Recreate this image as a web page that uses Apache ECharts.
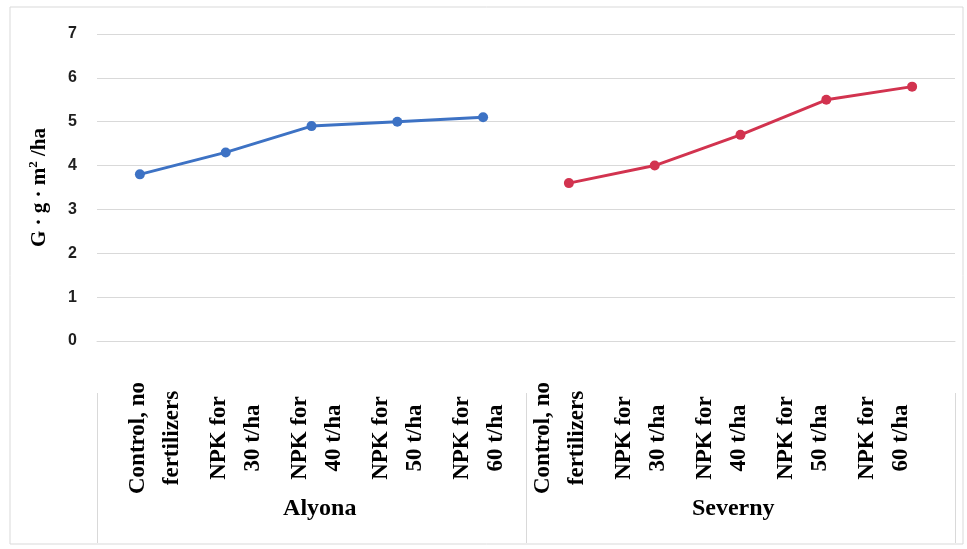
<!DOCTYPE html>
<html>
<head>
<meta charset="utf-8">
<script src="https://cdn.jsdelivr.net/npm/echarts@6/dist/echarts.min.js"></script>
<style>
  html, body { margin: 0; padding: 0; background: #ffffff; }
  #chart { width: 967px; height: 549px; }
</style>
</head>
<body>
<div id="chart"></div>
<script>
// Treatments, repeated for each variety
const treatments = [
  'Control, no\nfertilizers',
  'NPK for\n30 t/ha',
  'NPK for\n40 t/ha',
  'NPK for\n50 t/ha',
  'NPK for\n60 t/ha'
];
const varieties = ['Alyona', 'Severny'];

// Values per variety (G · g · m²/ha)
const alyona = [3.8, 4.3, 4.9, 5.0, 5.1];
const severny = [3.6, 4.0, 4.7, 5.5, 5.8];

// Y axis ticks
const yTicks = [0, 1, 2, 3, 4, 5, 6, 7];

const categories = varieties.flatMap(() => treatments);
const pad = treatments.map(() => null);
const alyonaSeries = alyona.concat(pad);
const severnySeries = pad.concat(severny);

const serif = '"Liberation Serif", "Times New Roman", serif';
const sans = '"Liberation Sans", Arial, sans-serif';
const gridColor = '#d9d9d9';

const chart = echarts.init(document.getElementById('chart'), null, { renderer: 'canvas' });

chart.setOption({
  backgroundColor: '#ffffff',
  animation: false,
  graphic: [{
    type: 'rect',
    shape: { x: 10, y: 7, width: 953, height: 537 },
    style: { fill: 'none', stroke: gridColor, lineWidth: 1 },
    silent: true,
    z: -1
  }],
  grid: [
    // plot area
    { left: 97, right: 12, top: 34, bottom: 208 },
    // treatment labels
    { left: 115, right: 42, top: 34, bottom: 208 },
    // variety labels
    { left: 113, right: 27, top: 34, bottom: 208 },
    // variety dividers
    { left: 97, right: 12, top: 34, bottom: 6 }
  ],
  xAxis: [
    {
      gridIndex: 0, type: 'category', data: categories, boundaryGap: true,
      axisLine: { show: true, lineStyle: { color: gridColor, width: 1 } },
      axisTick: { show: false }, axisLabel: { show: false }, splitLine: { show: false }
    },
    {
      gridIndex: 1, type: 'category', data: categories, boundaryGap: true,
      axisLine: { show: false }, axisTick: { show: false },
      axisLabel: {
        interval: 0, rotate: 90, align: 'center', verticalAlign: 'middle',
        margin: 97, fontFamily: serif, fontWeight: 'bold', fontSize: 23,
        lineHeight: 34, color: '#000000'
      }
    },
    {
      gridIndex: 2, type: 'category', data: varieties, boundaryGap: true,
      axisLine: { show: false }, axisTick: { show: false },
      axisLabel: {
        interval: 0, margin: 168, fontFamily: serif, fontWeight: 'bold',
        fontSize: 24, color: '#000000', verticalAlign: 'middle'
      }
    },
    {
      gridIndex: 3, type: 'category', data: varieties, boundaryGap: true,
      axisLine: { show: false },
      axisTick: { show: true, inside: true, length: 150, lineStyle: { color: gridColor, width: 1 } },
      axisLabel: { show: false }
    }
  ],
  yAxis: [
    {
      gridIndex: 0, type: 'value', min: yTicks[0], max: yTicks[yTicks.length - 1], interval: 1,
      axisLine: { show: false }, axisTick: { show: false },
      splitLine: { show: true, lineStyle: { color: gridColor, width: 1 } },
      axisLabel: {
        margin: 20, fontFamily: sans, fontWeight: 'bold', fontSize: 16, color: '#1f1f1f'
      },
      name: 'G · g · m{sup|2} /ha',
      nameLocation: 'middle', nameRotate: 90, nameGap: 45,
      nameTextStyle: {
        fontFamily: serif, fontWeight: 'bold', fontSize: 21, color: '#000000',
        rich: {
          sup: { fontFamily: serif, fontWeight: 'bold', fontSize: 13, color: '#000000', padding: [0, 0, 12, 0] }
        }
      }
    },
    { gridIndex: 1, type: 'value', show: false },
    { gridIndex: 2, type: 'value', show: false },
    { gridIndex: 3, type: 'value', show: false }
  ],
  series: [
    {
      name: 'Alyona', type: 'line', xAxisIndex: 0, yAxisIndex: 0,
      data: alyonaSeries, connectNulls: false,
      symbol: 'circle', symbolSize: 10,
      lineStyle: { color: '#3d72c4', width: 3 },
      itemStyle: { color: '#3d72c4' }
    },
    {
      name: 'Severny', type: 'line', xAxisIndex: 0, yAxisIndex: 0,
      data: severnySeries, connectNulls: false,
      symbol: 'circle', symbolSize: 10,
      lineStyle: { color: '#d2334f', width: 3 },
      itemStyle: { color: '#d2334f' }
    }
  ]
});
</script>
</body>
</html>
